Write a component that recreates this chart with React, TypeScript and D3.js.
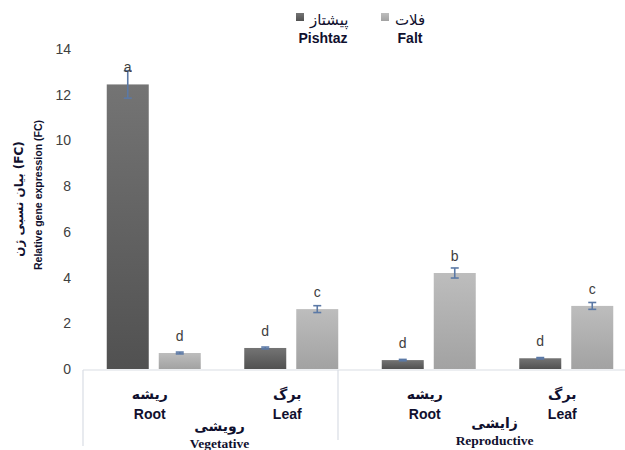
import React from "react";
import * as d3 from "d3";

const categories = ["veg-root", "veg-leaf", "rep-root", "rep-leaf"];
const catFa = ["ریشه", "برگ", "ریشه", "برگ"];
const catEn = ["Root", "Leaf", "Root", "Leaf"];
const stageFa = ["رویشی", "زایشی"];
const stageEn = ["Vegetative", "Reproductive"];
const seriesKeys = ["Pishtaz", "Falt"];
const seriesFa = ["پیشتاز", "فلات"];
const pishtaz = [12.45, 0.92, 0.39, 0.47];
const falt = [0.7, 2.62, 4.2, 2.76];
const pishtazErr = [0.6, 0.04, 0.03, 0.03];
const faltErr = [0.04, 0.15, 0.22, 0.15];
const pishtazLetters = ["a", "d", "d", "d"];
const faltLetters = ["d", "c", "b", "c"];
const yTicks = [0, 2, 4, 6, 8, 10, 12, 14];

const W = 625;
const H = 450;
const enColor = "#10102e";
const tickColor = "#404040";

export default function App() {
  const y = d3.scaleLinear().domain([0, 14]).range([369, 49]);
  const x0 = d3.scaleBand<string>().domain(categories).range([85, 635]);
  const bw0 = x0.bandwidth();
  const x1 = d3
    .scaleBand<string>()
    .domain(seriesKeys)
    .range([bw0 / 2 - 47, bw0 / 2 + 47])
    .paddingInner(0.1923)
    .paddingOuter(0);
  const bw = x1.bandwidth();

  const bars: any[] = [];
  categories.forEach((c, i) => {
    [
      { key: "Pishtaz", v: pishtaz[i], e: pishtazErr[i], l: pishtazLetters[i] },
      { key: "Falt", v: falt[i], e: faltErr[i], l: faltLetters[i] },
    ].forEach((b) => {
      bars.push({ ...b, cat: c, x: (x0(c) as number) + (x1(b.key) as number) });
    });
  });

  const centers = categories.map((c) => (x0(c) as number) + bw0 / 2);
  const stageCenters = [(centers[0] + centers[1]) / 2, (centers[2] + centers[3]) / 2];

  return (
    <div style={{ position: "fixed", left: 0, top: 0 }}>
      <svg width={W} height={H} style={{ display: "block", background: "#fff" }}>
        <defs>
          <linearGradient id="gDark" x1="0" y1="0" x2="0" y2="1">
            <stop offset="0%" stopColor="#747474" />
            <stop offset="100%" stopColor="#515151" />
          </linearGradient>
          <linearGradient id="gLight" x1="0" y1="0" x2="0" y2="1">
            <stop offset="0%" stopColor="#bdbdbd" />
            <stop offset="100%" stopColor="#a2a2a2" />
          </linearGradient>
        </defs>

        {/* Y tick labels */}
        {yTicks.map((t) => (
          <text
            key={t}
            x={71}
            y={y(t) + 5}
            textAnchor="end"
            fontFamily="Liberation Sans, Arial, sans-serif"
            fontSize={14}
            fill={tickColor}
          >
            {t}
          </text>
        ))}

        {/* Y axis titles */}
        <text
          transform={`translate(23,199) rotate(-90)`}
          textAnchor="middle"
          fontFamily="DejaVu Sans, sans-serif"
          fontWeight="bold"
          fontSize={12}
          fill={enColor}
        >
          بیان نسبی ژن (FC)
        </text>
        <text
          transform={`translate(42,195) rotate(-90)`}
          textAnchor="middle"
          fontFamily="Liberation Sans, Arial, sans-serif"
          fontWeight="bold"
          fontSize={10.5}
          fill={enColor}
        >
          Relative gene expression (FC)
        </text>

        {/* Bars */}
        {bars.map((b, i) => (
          <rect
            key={i}
            x={b.x}
            y={y(b.v)}
            width={bw}
            height={y(0) - y(b.v)}
            fill={b.key === "Pishtaz" ? "url(#gDark)" : "url(#gLight)"}
          />
        ))}

        {/* Axis lines */}
        <line x1={83} x2={625} y1={370} y2={370} stroke="#d9dde4" strokeWidth={1.2} />
        <line x1={83} x2={83} y1={370} y2={446} stroke="#d9dde4" strokeWidth={1.2} />
        <line x1={338} x2={338} y1={370} y2={440} stroke="#d9dde4" strokeWidth={1.2} />

        {/* Error bars */}
        {bars.map((b, i) => {
          const cx = b.x + bw / 2;
          return (
            <g key={"e" + i} stroke="#5b79a6" strokeWidth={1.6}>
              <line x1={cx} x2={cx} y1={y(b.v + b.e)} y2={y(b.v - b.e)} />
              <line x1={cx - 4} x2={cx + 4} y1={y(b.v + b.e)} y2={y(b.v + b.e)} />
              <line x1={cx - 4} x2={cx + 4} y1={y(b.v - b.e)} y2={y(b.v - b.e)} />
            </g>
          );
        })}

        {/* Letters */}
        {bars.map((b, i) => (
          <text
            key={"l" + i}
            x={b.x + bw / 2}
            y={y(b.v) - 12}
            textAnchor="middle"
            fontFamily="Liberation Sans, Arial, sans-serif"
            fontSize={14}
            fill={tickColor}
          >
            {b.l}
          </text>
        ))}

        {/* Category labels */}
        {categories.map((c, i) => (
          <g key={"c" + i}>
            <text
              x={centers[i] - 4}
              y={399}
              textAnchor="middle"
              fontFamily="DejaVu Sans, sans-serif"
              fontWeight="bold"
              fontSize={14}
              fill={enColor}
            >
              {catFa[i]}
            </text>
            <text
              x={centers[i] - 4}
              y={419}
              textAnchor="middle"
              fontFamily="Liberation Sans, Arial, sans-serif"
              fontWeight="bold"
              fontSize={14}
              fill={enColor}
            >
              {catEn[i]}
            </text>
          </g>
        ))}

        {/* Stage labels */}
        {stageCenters.map((sx, i) => (
          <g key={"s" + i}>
            <text
              x={sx - 3}
              y={i === 0 ? 431 : 428}
              textAnchor="middle"
              fontFamily="DejaVu Sans, sans-serif"
              fontWeight="bold"
              fontSize={14}
              fill={enColor}
            >
              {stageFa[i]}
            </text>
            <text
              x={sx - 3}
              y={i === 0 ? 448 : 445}
              textAnchor="middle"
              fontFamily="Liberation Serif, Times New Roman, serif"
              fontWeight="bold"
              fontSize={13.5}
              fill={enColor}
            >
              {stageEn[i]}
            </text>
          </g>
        ))}

        {/* Legend */}
        {seriesKeys.map((k, i) => {
          const lx = i === 0 ? 296 : 381;
          return (
            <g key={"lg" + i}>
              <rect x={lx} y={13} width={8} height={8} fill={i === 0 ? "url(#gDark)" : "url(#gLight)"} />
              <text
                x={lx + 14}
                y={25}
                fontFamily="DejaVu Sans, sans-serif"
                fontSize={15}
                fill={enColor}
              >
                {seriesFa[i]}
              </text>
              <text
                x={i === 0 ? 323 : 410}
                y={43}
                textAnchor="middle"
                fontFamily="Liberation Sans, Arial, sans-serif"
                fontWeight="bold"
                fontSize={14}
                fill={enColor}
              >
                {k}
              </text>
            </g>
          );
        })}
      </svg>
    </div>
  );
}
